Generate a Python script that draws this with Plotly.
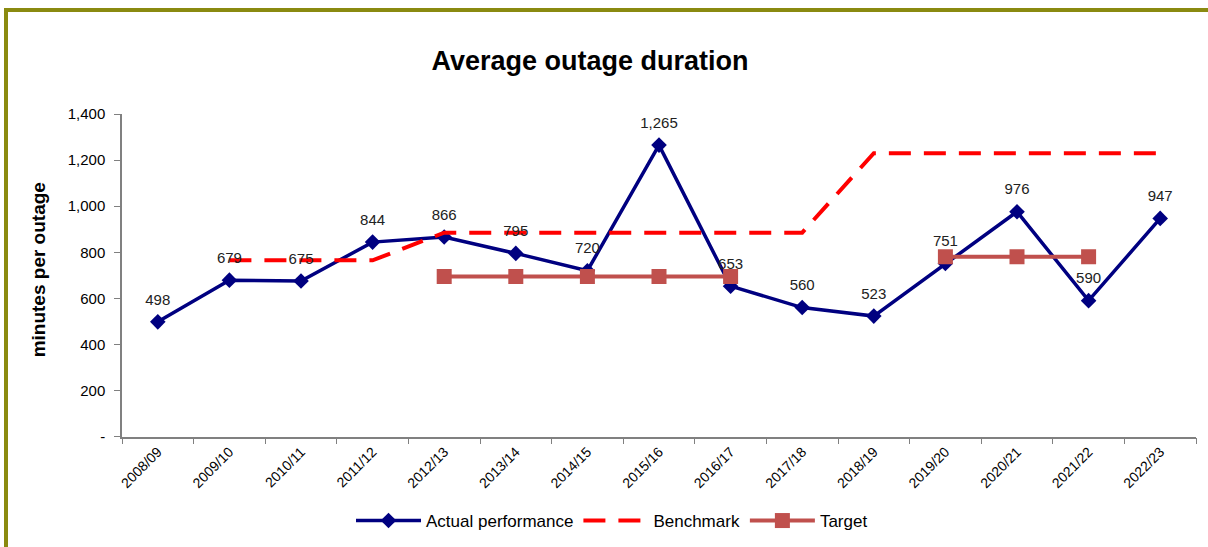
import plotly.graph_objects as go

# Data
years = ["2008/09", "2009/10", "2010/11", "2011/12", "2012/13", "2013/14", "2014/15",
         "2015/16", "2016/17", "2017/18", "2018/19", "2019/20", "2020/21", "2021/22", "2022/23"]
actual = [498, 679, 675, 844, 866, 795, 720, 1265, 653, 560, 523, 751, 976, 590, 947]
benchmark = [None, 765, 765, 765, 885, 885, 885, 885, 885, 885, 1230, 1230, 1230, 1230, 1230]
target = [None, None, None, None, 695, 695, 695, 695, 695, None, None, 780, 780, 780, None]

y_ticks = [0, 200, 400, 600, 800, 1000, 1200, 1400]
y_tick_text = ["-"] + [f"{v:,}" for v in y_ticks[1:]]

# plot area in pixels (used to place the frame and the axis title)
L, R, T, B = 122, 1196, 114, 440
W, H = 1208, 547


def px_x(p):
    return (p - L) / (R - L)


def px_y(p):
    return (B - p) / (B - T)


fig = go.Figure()

fig.add_trace(go.Scatter(
    x=years, y=actual, name="Actual performance",
    mode="lines+markers",
    line=dict(color="#000080", width=3.5),
    marker=dict(symbol="diamond", size=12, color="#000080"),
))
fig.add_trace(go.Scatter(
    x=years, y=benchmark, name="Benchmark", mode="lines",
    line=dict(color="#ff0000", width=4, dash="22px,13px"),
))
fig.add_trace(go.Scatter(
    x=years, y=target, name="Target", mode="lines+markers",
    line=dict(color="#c0504d", width=4),
    marker=dict(symbol="square", size=15, color="#c0504d"),
))
# data labels: an invisible larger marker pushes the text a bit higher
fig.add_trace(go.Scatter(
    x=years, y=actual, mode="markers+text", showlegend=False,
    marker=dict(size=20, color="rgba(0,0,0,0)"),
    text=[f"{v:,}" for v in actual], textposition="top center",
    textfont=dict(family="Arial", size=15, color="#222222"),
))

# olive frame round the whole chart (right and bottom fall outside the picture)
fig.add_shape(type="rect", xref="paper", yref="paper",
              x0=px_x(6), x1=px_x(1230), y0=px_y(580), y1=px_y(9),
              line=dict(color="#8a8a10", width=4), fillcolor="rgba(0,0,0,0)")

fig.add_annotation(text="<b>minutes per outage</b>", textangle=-90,
                   xref="paper", yref="paper", x=px_x(38), y=px_y(272),
                   xanchor="center", yanchor="middle",
                   showarrow=False, font=dict(family="Arial", size=19, color="#000000"))

fig.update_layout(
    width=W, height=H,
    margin=dict(l=L, r=W - R, t=T, b=H - B),
    paper_bgcolor="white", plot_bgcolor="white",
    title=dict(text="<b>Average outage duration</b>", x=590 / W, xanchor="center",
               xref="container", y=1 - 61 / H, yanchor="middle",
               font=dict(family="Arial", size=27, color="#000000")),
    font=dict(family="Arial", color="#000000"),
    showlegend=True,
    legend=dict(orientation="h", x=612 / W, xref="container", xanchor="center",
                y=1 - 521 / H, yref="container", yanchor="middle",
                font=dict(family="Arial", size=17, color="#000000"),
                itemwidth=65),
    hovermode=False,
)

fig.update_xaxes(
    type="category", range=[-0.5, len(years) - 0.5], tickangle=-45, tickson="boundaries",
    showline=True, linecolor="#808080", linewidth=1.5,
    ticks="outside", ticklen=6, tickcolor="#808080",
    showgrid=False, tickfont=dict(family="Arial", size=14, color="#000000"),
)
fig.update_yaxes(
    range=[0, 1400], tickvals=y_ticks, ticktext=y_tick_text,
    showline=True, linecolor="#808080", linewidth=1.5,
    ticks="outside", ticklen=6, tickcolor="#808080", ticklabelstandoff=6,
    showgrid=False, zeroline=False,
    tickfont=dict(family="Arial", size=15, color="#000000"),
)

# drop the page's default body margin so the figure sits at the window's corner
fig.write_html("out.html", config={"displayModeBar": False},
               post_script="document.body.style.margin='0';document.body.style.overflow='hidden';")
